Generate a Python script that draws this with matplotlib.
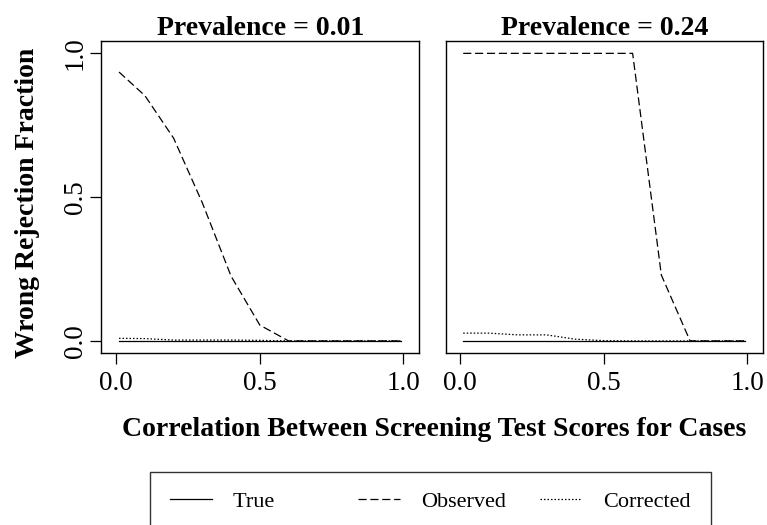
import matplotlib
matplotlib.use("Agg")
import matplotlib.pyplot as plt
from matplotlib.lines import Line2D

plt.rcParams['font.family'] = ['Liberation Serif', 'DejaVu Serif']

# correlation between screening test scores for cases
corr = [0.01, 0.1, 0.2, 0.3, 0.4, 0.5, 0.6, 0.7, 0.8, 0.9, 0.99]

# prevalence = 0.01
true_01 = [0, 0, 0, 0, 0, 0, 0, 0, 0, 0, 0]
observed_01 = [0.935, 0.853, 0.705, 0.48, 0.225, 0.055, 0.0, 0.0, 0.0, 0.0, 0.0]
corrected_01 = [0.009, 0.008, 0.003, 0.003, 0.003, 0.002, 0.0, 0.0, 0.0, 0.0, 0.0]

# prevalence = 0.24
true_24 = [0, 0, 0, 0, 0, 0, 0, 0, 0, 0, 0]
observed_24 = [1.0, 1.0, 1.0, 1.0, 1.0, 1.0, 1.0, 0.229, 0.0, 0.0, 0.0]
corrected_24 = [0.027, 0.027, 0.021, 0.021, 0.006, 0.001, 0.0, 0.0, 0.0, 0.0, 0.0]

panels = [("Prevalence = 0.01", true_01, observed_01, corrected_01),
          ("Prevalence = 0.24", true_24, observed_24, corrected_24)]

xticks = [0.0, 0.5, 1.0]
yticks = [0.0, 0.5, 1.0]
xticklabels = ["0.0", "0.5", "1.0"]
yticklabels = ["0.0", "0.5", "1.0"]
legend_labels = ["True", "Observed", "Corrected"]

W, H = 767, 525
fig = plt.figure(figsize=(W / 100, H / 100), dpi=100)

DASH = (0, (6.5, 3))
DOT = (0, (1.2, 1.6))
LW = 0.9

axes_px = [(101.5, 40.7, 419, 352.7), (445.7, 40.7, 763, 352.7)]

for i, (title, tr, obs, cor) in enumerate(panels):
    x0, y0, x1, y1 = axes_px[i]
    ax = fig.add_axes([x0 / W, 1 - y1 / H, (x1 - x0) / W, (y1 - y0) / H])
    ax.plot(corr, tr, color='black', lw=LW, linestyle='-')
    ax.plot(corr, obs, color='black', lw=LW, linestyle=DASH)
    ax.plot(corr, cor, color='black', lw=LW, linestyle=DOT)
    ax.set_xlim(-0.051, 1.054)
    ax.set_ylim(-0.041, 1.044)
    ax.set_xticks(xticks)
    ax.set_xticklabels(xticklabels, fontsize=19.5)
    ax.tick_params(axis='x', length=8, width=0.9, pad=5.5, direction='out')
    if i == 0:
        ax.set_yticks(yticks)
        ax.set_yticklabels(yticklabels, fontsize=19.5, rotation=90, va='center')
        ax.tick_params(axis='y', length=8, width=0.9, pad=2, direction='out')
    else:
        ax.set_yticks([])
    for s in ax.spines.values():
        s.set_linewidth(1.0)
        s.set_color('black')
    ax.text(0.5, 1 + 5.7 / (y1 - y0), title, transform=ax.transAxes,
            ha='center', va='baseline', fontsize=20, fontweight='bold')

fig.text(28 / W, 1 - 203 / H, "Wrong Rejection Fraction", rotation=90,
         ha='center', va='center', fontsize=20, fontweight='bold')
fig.text(433.7 / W, 1 - 436 / H, "Correlation Between Screening Test Scores for Cases",
         ha='center', va='baseline', fontsize=20, fontweight='bold')

handles = [Line2D([], [], color='black', lw=LW, linestyle='-'),
           Line2D([], [], color='black', lw=LW, linestyle=DASH),
           Line2D([], [], color='black', lw=LW, linestyle=DOT)]
# R spaces the legend columns evenly, pad the short label so it does too
shown = [legend_labels[0] + "\u00a0" * 9] + legend_labels[1:]
leg = fig.legend(handles, shown, loc='upper left',
                 bbox_to_anchor=(149.7 / W, 1 - 471.7 / H), ncol=3,
                 fontsize=16, frameon=True, fancybox=False, edgecolor='black',
                 borderpad=0.9, handlelength=1.9, handletextpad=0.95,
                 columnspacing=1.5, borderaxespad=0)
leg.get_frame().set_linewidth(1.0)

fig.savefig("out.png", dpi=100)
